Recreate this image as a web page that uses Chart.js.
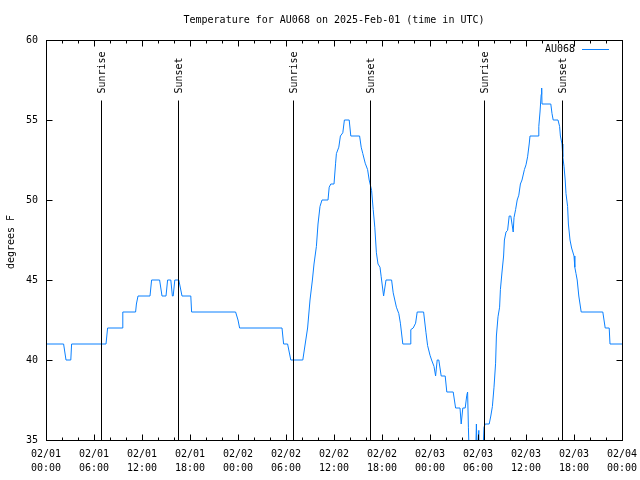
<!DOCTYPE html>
<html>
<head>
<meta charset="utf-8">
<script src="https://cdn.jsdelivr.net/npm/chart.js@4/dist/chart.umd.min.js"></script>
<style>
  html, body { margin: 0; padding: 0; background: #fff; }
  #wrap { width: 640px; height: 480px; }
</style>
</head>
<body>
<div id="wrap"><canvas id="tempChart" width="640" height="480"></canvas></div>
<script>
// hours since 02/01 00:00 UTC, temperature in F
const hours = [0, 2.2, 2.5, 3.1, 3.2, 7.5, 7.7, 9.5, 9.6, 11.2, 11.3, 11.5, 13.0, 13.2, 14.2, 14.5, 15.0, 15.2, 15.6,
  15.8, 15.9, 16.1, 16.6, 16.8, 17.0, 18.1, 18.2, 23.7, 24.0, 24.2, 29.5, 29.7, 30.2, 30.4, 30.6, 32.1, 32.4, 32.7,
  33.0, 33.3, 33.5, 33.8, 34.0, 34.25, 34.5, 35.25, 35.4, 35.6, 36.0, 36.2, 36.3, 36.6, 36.8, 37.1, 37.3, 37.9, 38.1,
  39.2, 39.4, 39.6, 39.9, 40.2, 40.4, 40.7, 40.9, 41.1, 41.3, 41.5, 41.75, 41.9, 42.2, 42.5, 43.2, 43.4, 43.8, 44.1,
  44.3, 44.6, 45.5, 45.6, 45.9, 46.2, 46.4, 47.2, 47.5, 47.7, 48.0, 48.2, 48.5, 48.7, 48.9, 49.1, 49.4, 49.9, 50.1,
  50.9, 51.2, 51.75, 51.9, 52.1, 52.4, 52.6, 52.7, 52.8, 52.9, 53.7, 53.8, 53.9, 54.1, 54.15, 54.6, 54.75, 54.9,
  55.4, 55.6, 55.8, 56.0, 56.2, 56.3, 56.5, 56.7, 56.8, 57.0, 57.2, 57.3, 57.5, 57.7, 57.9, 58.1, 58.25, 58.4, 58.5,
  58.7, 58.9, 59.1, 59.3, 59.5, 59.8, 60.0, 60.2, 60.4, 60.5, 61.5, 61.6, 61.75, 61.9, 61.96, 62.0, 63.1, 63.25,
  63.4, 64.0, 64.2, 64.3, 64.5, 64.6, 64.75, 64.9, 65.0, 65.2, 65.3, 65.5, 65.7, 66.0, 66.1, 66.25, 66.4, 66.6,
  66.75, 66.9, 69.6, 69.75, 69.9, 70.4, 70.5, 72];
const temps = [41, 41, 40, 40, 41, 41, 42, 42, 43, 43, 43.5, 44, 44, 45, 45, 44, 44, 45, 45,
  44, 44, 45, 45, 44.5, 44, 44, 43, 43, 42.5, 42, 42, 41, 41, 40.5, 40, 40, 41, 42,
  43.75, 45, 46, 47.1, 48.5, 49.6, 50, 50, 50.8, 51, 51, 52.3, 52.9, 53.3, 54, 54.2, 55, 55, 54,
  54, 53.3, 52.9, 52.3, 51.9, 51.25, 50.6, 49.4, 48.3, 46.7, 46, 45.8, 45.2, 44, 45, 45, 44.2, 43.3, 42.9,
  42.3, 41, 41, 41.9, 42, 42.3, 43, 43, 41.7, 40.9, 40.3, 40, 39.6, 39, 40, 40, 39, 39, 38,
  38, 37, 37, 36, 37, 37, 37.8, 38, 35.8, 34, 34, 36, 34, 35.6, 34, 34, 35.8, 36,
  36, 36.5, 37.1, 38.3, 39.8, 41.5, 42.7, 43.3, 44.4, 45.5, 46.5, 47.5, 48, 48.1, 49, 49, 48.5, 48, 48.9,
  49.4, 50, 50.3, 51, 51.25, 51.9, 52.2, 52.7, 53.5, 54, 54, 54.6, 55.5, 56.6, 57, 56, 56, 55.4,
  55, 55, 54.6, 54, 53.5, 52.7, 52.1, 51.25, 50.4, 49.6, 48.5, 47.5, 47, 46.5, 45.8, 45.4, 45, 44,
  43.5, 43, 43, 42.5, 42, 42, 41, 41];

const sunrise = [6.87, 30.9, 54.8];
const sunset = [16.54, 40.54, 64.54];
const markerTop = 56.25;           // top of sunrise/sunset lines, degrees F
const dayLabels = ['02/01', '02/02', '02/03', '02/04'];
const seriesName = 'AU068';
const titleText = 'Temperature for AU068 on 2025-Feb-01 (time in UTC)';
const lineColor = '#0a80ff';
const FONT = '10px "DejaVu Sans Mono", "Liberation Mono", monospace';

const points = hours.map((h, i) => ({ x: h, y: temps[i] }));

// gnuplot-like frame, inward ticks, title, labels, markers and legend
const gnuplotDecor = {
  id: 'gnuplotDecor',
  afterDatasetsDraw(chart) {
    const ctx = chart.ctx;
    const a = chart.chartArea;
    const xs = chart.scales.x, ys = chart.scales.y;
    ctx.save();
    ctx.strokeStyle = '#000';
    ctx.lineWidth = 1;

    // sunrise / sunset lines
    const yTop = Math.round(ys.getPixelForValue(markerTop)) + 0.5;
    const marks = sunrise.map(h => [h, 'Sunrise']).concat(sunset.map(h => [h, 'Sunset']));
    ctx.font = FONT;
    ctx.fillStyle = '#000';
    marks.forEach(([h, txt]) => {
      const px = Math.round(xs.getPixelForValue(h)) + 0.5;
      ctx.beginPath();
      ctx.moveTo(px, yTop);
      ctx.lineTo(px, a.bottom);
      ctx.stroke();
      ctx.save();
      ctx.translate(px + 1, yTop - 7);
      ctx.rotate(-Math.PI / 2);
      ctx.textAlign = 'left';
      ctx.textBaseline = 'middle';
      ctx.fillText(txt, 0, 0);
      ctx.restore();
    });

    // border
    const L = Math.round(a.left) + 0.5, R = Math.round(a.right) + 0.5;
    const T = Math.round(a.top) + 0.5, B = Math.round(a.bottom) + 0.5;
    ctx.strokeRect(L, T, R - L, B - T);

    // x ticks: major every 6h, minor every 2h, bottom and top
    ctx.beginPath();
    for (let h = 0; h <= 72; h += 2) {
      const px = Math.round(xs.getPixelForValue(h)) + 0.5;
      const len = (h % 6 === 0) ? 6 : 3;
      ctx.moveTo(px, B); ctx.lineTo(px, B - len);
      ctx.moveTo(px, T); ctx.lineTo(px, T + len);
    }
    // y ticks, left and right
    for (let v = 35; v <= 60; v += 5) {
      const py = Math.round(ys.getPixelForValue(v)) + 0.5;
      ctx.moveTo(L, py); ctx.lineTo(L + 6, py);
      ctx.moveTo(R, py); ctx.lineTo(R - 6, py);
    }
    ctx.stroke();

    // title
    ctx.textAlign = 'center';
    ctx.textBaseline = 'middle';
    ctx.fillText(titleText, (a.left + a.right) / 2, 20);

    // y axis title
    ctx.save();
    ctx.translate(11, 242);
    ctx.rotate(-Math.PI / 2);
    ctx.fillText('degrees F', 0, 0);
    ctx.restore();

    // legend
    ctx.textAlign = 'right';
    ctx.fillText(seriesName, a.right - 47, a.top + 9);
    ctx.strokeStyle = lineColor;
    ctx.beginPath();
    ctx.moveTo(a.right - 40, a.top + 9.5);
    ctx.lineTo(a.right - 13, a.top + 9.5);
    ctx.stroke();
    ctx.restore();
  }
};

new Chart(document.getElementById('tempChart'), {
  type: 'line',
  data: {
    datasets: [{
      label: seriesName,
      data: points,
      borderColor: lineColor,
      backgroundColor: lineColor,
      borderWidth: 1,
      pointRadius: 0,
      tension: 0,
      fill: false
    }]
  },
  options: {
    responsive: false,
    animation: false,
    devicePixelRatio: 1,
    layout: { padding: { left: 0, right: 18, top: 40, bottom: 0 } },
    plugins: {
      legend: { display: false },
      title: { display: false },
      tooltip: { enabled: false }
    },
    scales: {
      x: {
        type: 'linear',
        min: 0,
        max: 72,
        grid: { display: false, drawTicks: false },
        border: { display: false },
        afterFit(scale) {
          scale.height = 40;
          scale.paddingLeft = 0;
          scale.paddingRight = 0;
        },
        ticks: {
          stepSize: 6,
          autoSkip: false,
          maxRotation: 0,
          padding: 8,
          color: '#000',
          font: { family: '"DejaVu Sans Mono", "Liberation Mono", monospace', size: 10, lineHeight: 1.35 },
          callback: (v) => {
            const d = Math.floor(v / 24);
            const hh = String(v % 24).padStart(2, '0');
            return [dayLabels[d], hh + ':00'];
          }
        }
      },
      y: {
        min: 35,
        max: 60,
        grid: { display: false, drawTicks: false },
        border: { display: false },
        afterFit(scale) { scale.width = 46; },
        ticks: {
          stepSize: 5,
          padding: 8,
          color: '#000',
          font: { family: '"DejaVu Sans Mono", "Liberation Mono", monospace', size: 10 }
        }
      }
    }
  },
  plugins: [gnuplotDecor]
});
</script>
</body>
</html>
